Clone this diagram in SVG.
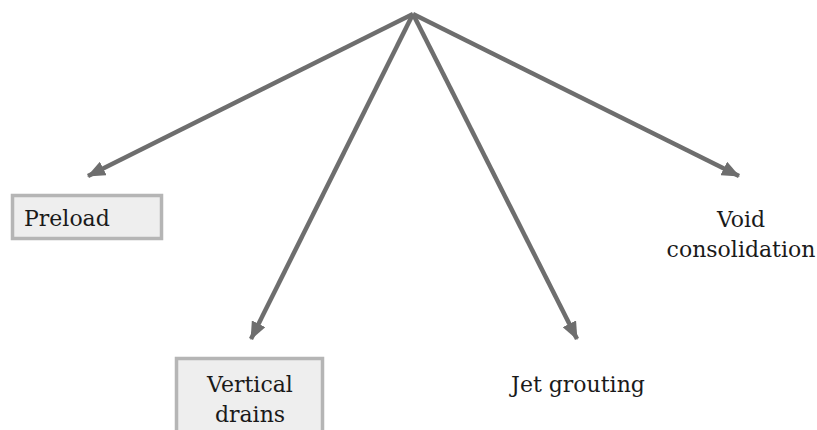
<svg xmlns="http://www.w3.org/2000/svg" width="817" height="430" viewBox="0 0 817 430">
<style>
.lbl{font-family:"DejaVu Serif","Liberation Serif",serif;font-size:22px;fill:#1a1a1a}
.box{fill:#eeeeee;stroke:#b5b5b5;stroke-width:3.5}
.edge{stroke:#6e6e6e;stroke-width:4.5;fill:none;marker-end:url(#ah)}
</style>
<defs>
<marker id="ah" markerUnits="userSpaceOnUse" viewBox="0 0 18 15" refX="17" refY="7.5" markerWidth="18" markerHeight="15" orient="auto">
<path d="M0,0 L18,7.5 L0,15 Z" fill="#6e6e6e"/>
</marker>
</defs>
<rect width="817" height="430" fill="#ffffff"/>
<g id="connectors">
<line class="edge" x1="413" y1="14" x2="88" y2="176"/>
<line class="edge" x1="413" y1="14" x2="251" y2="339"/>
<line class="edge" x1="413" y1="14" x2="577" y2="339"/>
<line class="edge" x1="413" y1="14" x2="739" y2="176"/>
</g>
<g id="preload">
<rect class="box" x="12.5" y="195.5" width="149" height="43"/>
<text class="lbl" x="24" y="226">Preload</text>
</g>
<g id="vertical-drains">
<rect class="box" x="176.5" y="358.5" width="146" height="80"/>
<text class="lbl" x="250" y="392" text-anchor="middle">Vertical</text>
<text class="lbl" x="250" y="422" text-anchor="middle">drains</text>
</g>
<g id="jet-grouting">
<text class="lbl" x="578" y="392" text-anchor="middle">Jet grouting</text>
</g>
<g id="void-consolidation">
<text class="lbl" x="741" y="227" text-anchor="middle">Void</text>
<text class="lbl" x="741" y="257" text-anchor="middle">consolidation</text>
</g>
</svg>
